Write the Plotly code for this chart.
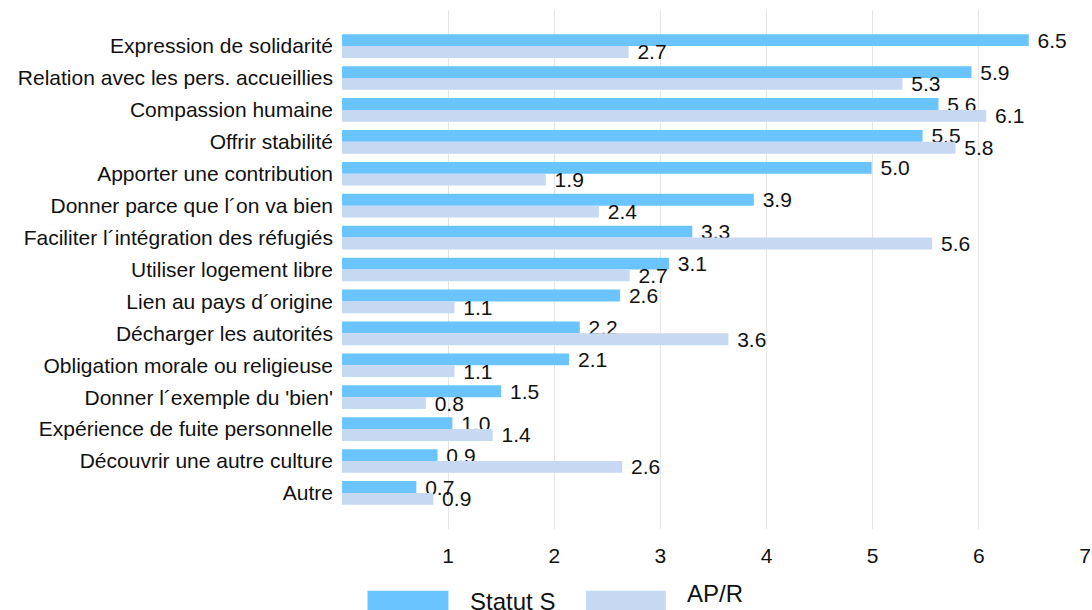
import plotly.graph_objects as go

categories = [
    "Expression de solidarité",
    "Relation avec les pers. accueillies",
    "Compassion humaine",
    "Offrir stabilité",
    "Apporter une contribution",
    "Donner parce que l´on va bien",
    "Faciliter l´intégration des réfugiés",
    "Utiliser logement libre",
    "Lien au pays d´origine",
    "Décharger les autorités",
    "Obligation morale ou religieuse",
    "Donner l´exemple du 'bien'",
    "Expérience de fuite personnelle",
    "Découvrir une autre culture",
    "Autre",
]
statut_s = [6.47, 5.93, 5.62, 5.47, 4.99, 3.88, 3.30, 3.08, 2.62, 2.24, 2.14, 1.50, 1.04, 0.90, 0.70]
ap_r = [2.70, 5.28, 6.07, 5.78, 1.92, 2.42, 5.56, 2.71, 1.06, 3.64, 1.06, 0.79, 1.42, 2.64, 0.86]
series_names = ["Statut S", "AP/R"]
colors = ["#6AC4FF", "#C7D8F3"]
x_ticks = [1, 2, 3, 4, 5, 6, 7]

FONT = "Liberation Sans, Arial, sans-serif"
FS = 21

fig = go.Figure()
for name, vals, col in zip(series_names, [statut_s, ap_r], colors):
    fig.add_trace(go.Bar(
        y=categories, x=vals, name=name, orientation="h",
        marker=dict(color=col, line=dict(width=0)),
        texttemplate="\u00a0%{x:.1f}", textposition="outside",
        constraintext="none", cliponaxis=False,
        textfont=dict(family=FONT, size=FS, color="#111111"),
        showlegend=False, hoverinfo="skip",
    ))

n = len(categories)
fig.update_layout(
    width=1092, height=610, autosize=False,
    margin=dict(l=342, r=7, t=10, b=81),
    paper_bgcolor="white", plot_bgcolor="white",
    barmode="group", bargap=0.26, bargroupgap=0,
    font=dict(family=FONT, size=FS, color="#111111"),
    xaxis=dict(range=[0, 7], tickvals=x_ticks, showgrid=True, gridcolor="#E6E6E6",
               gridwidth=1, zeroline=False, showline=False, ticks="",
               ticklabelstandoff=12, ticklabeloverflow="allow", automargin=False,
               tickfont=dict(size=FS, color="#111111")),
    yaxis=dict(categoryorder="array", categoryarray=categories,
               range=[n - 1 + 1.13, -1.13], showgrid=False, zeroline=False,
               showline=False, ticks="", ticklabelstandoff=8, automargin=False,
               tickfont=dict(size=FS, color="#111111")),
)

# custom legend with wide swatches
sw = [(0.0343, 0.1432, 0.1702, -0.1397), (0.3283, 0.4358, 0.4614, -0.1243)]
for (x0, x1, xt, yt), name, col in zip(sw, series_names, colors):
    fig.add_shape(type="rect", xref="paper", yref="paper", x0=x0, x1=x1,
                  y0=-0.119, y1=-0.17, fillcolor=col, line=dict(width=0))
    fig.add_annotation(xref="paper", yref="paper", x=xt, y=yt, text=name,
                       showarrow=False, xanchor="left", yanchor="middle",
                       font=dict(family=FONT, size=24, color="#111111"))

fig.write_html(
    "out.html",
    config={"displayModeBar": False, "responsive": False},
    post_script="document.body.style.margin='0';document.body.style.overflow='hidden';",
)
